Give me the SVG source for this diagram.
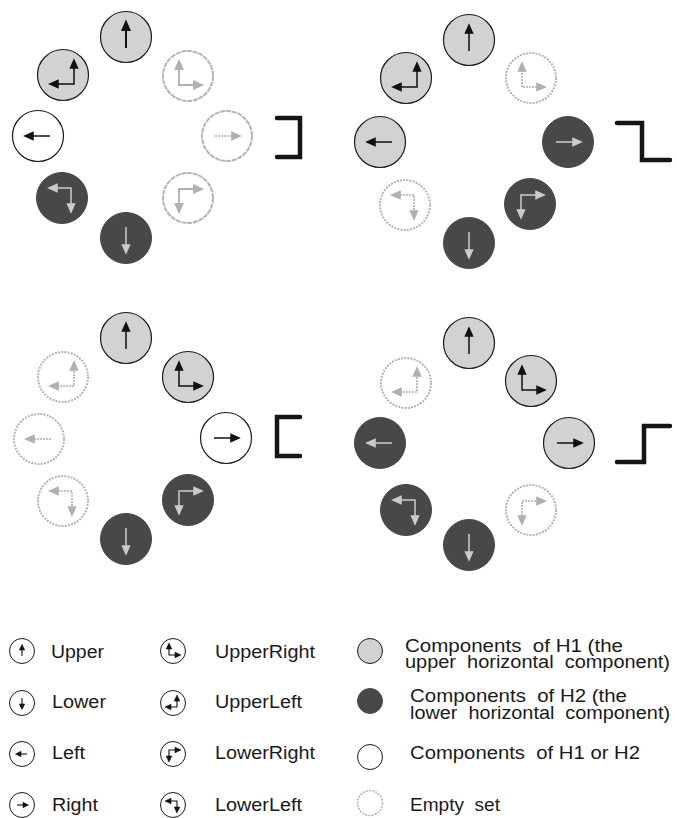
<svg xmlns="http://www.w3.org/2000/svg" xmlns:xlink="http://www.w3.org/1999/xlink" width="677" height="818" viewBox="0 0 677 818">
<style>
.lt{fill:#d2d2d2;stroke:#1a1a1a;stroke-width:1.2}
.dk{fill:#484848;stroke:#484848;stroke-width:1}
.wh{fill:#fff;stroke:#1a1a1a;stroke-width:1.2}
.em{fill:none;stroke:#b4b4b4;stroke-width:2;stroke-dasharray:2 1.2}
.ab{color:#111;stroke-width:1.5}
.ag{color:#cbcbcb;stroke-width:1.5}
.ae{color:#b0b0b0;stroke-width:1.6;stroke-dasharray:2 1}
.as{color:#b0b0b0;stroke-width:1.8}
.lg{color:#111;stroke-width:1.1}
.hd{fill:currentColor;stroke:currentColor;stroke-linejoin:miter;stroke-dasharray:none}
.t{font-family:"Liberation Sans",Arial,sans-serif;font-size:18px;fill:#1a1a1a}
.br{fill:none;stroke:#151515;stroke-width:4.5;stroke-linecap:round;stroke-linejoin:miter}
</style>
<defs>
<g id="aU"><path d="M0,11V-8" fill="none" stroke="currentColor"/><path class="hd" d="M0,-15L-3.5,-7H3.5Z"/></g>
<g id="aD"><path d="M0,-11V8" fill="none" stroke="currentColor"/><path class="hd" d="M0,15L-3.5,7H3.5Z"/></g>
<g id="aL"><path d="M12,0H-6" fill="none" stroke="currentColor"/><path class="hd" d="M-13,0L-5,-3.5V3.5Z"/></g>
<g id="aR"><path d="M-12,0H6" fill="none" stroke="currentColor"/><path class="hd" d="M13,0L5,-3.5V3.5Z"/></g>
<g id="aUL"><path d="M-6,9H11V-8" fill="none" stroke="currentColor"/><path class="hd" d="M11,-15L7.5,-7H14.5Z"/><path class="hd" d="M-13,9L-5,5.5V12.5Z"/></g>
<g id="aUR"><path d="M-9,-8V9H6" fill="none" stroke="currentColor"/><path class="hd" d="M-9,-15L-12.5,-7H-5.5Z"/><path class="hd" d="M14,9L6,5.5V12.5Z"/></g>
<g id="aLL"><path d="M-5,-10H9V6" fill="none" stroke="currentColor"/><path class="hd" d="M-13,-10L-5,-13.5V-6.5Z"/><path class="hd" d="M9,14L5.5,6H12.5Z"/></g>
<g id="aLR"><path d="M-9,6V-9H6" fill="none" stroke="currentColor"/><path class="hd" d="M14,-9L6,-12.5V-5.5Z"/><path class="hd" d="M-9,14L-12.5,6H-5.5Z"/></g>
<!-- legend-size arrows -->
<g id="sU"><path d="M0,5V-2" fill="none" stroke="currentColor"/><path class="hd" d="M0,-6.5L-2.7,-1H2.7Z" style="stroke-width:0.6"/></g>
<g id="sD"><path d="M0,-5V2" fill="none" stroke="currentColor"/><path class="hd" d="M0,6.5L-2.7,1H2.7Z" style="stroke-width:0.6"/></g>
<g id="sL"><path d="M5,0H-2" fill="none" stroke="currentColor"/><path class="hd" d="M-6.5,0L-1,-2.7V2.7Z" style="stroke-width:0.6"/></g>
<g id="sR"><path d="M-5,0H2" fill="none" stroke="currentColor"/><path class="hd" d="M6.5,0L1,-2.7V2.7Z" style="stroke-width:0.6"/></g>
<g id="sUR"><path d="M-4,-2V4H2" fill="none" stroke="currentColor"/><path class="hd" d="M-4,-8L-6.8,-2H-1.2Z" style="stroke-width:0.6"/><path class="hd" d="M8,4L2,1.2V6.8Z" style="stroke-width:0.6"/></g>
<g id="sUL"><path d="M-2,4H4V-2" fill="none" stroke="currentColor"/><path class="hd" d="M4,-8L1.2,-2H6.8Z" style="stroke-width:0.6"/><path class="hd" d="M-8,4L-2,1.2V6.8Z" style="stroke-width:0.6"/></g>
<g id="sLR"><path d="M-4,2V-4H2" fill="none" stroke="currentColor"/><path class="hd" d="M8,-4L2,-6.8V-1.2Z" style="stroke-width:0.6"/><path class="hd" d="M-4,8L-6.8,2H-1.2Z" style="stroke-width:0.6"/></g>
<g id="sLL"><path d="M-2,-4H4V2" fill="none" stroke="currentColor"/><path class="hd" d="M-8,-4L-2,-6.8V-1.2Z" style="stroke-width:0.6"/><path class="hd" d="M4,8L1.2,2H6.8Z" style="stroke-width:0.6"/></g>
</defs>

<!-- Panel 1 -->
<g id="p1-upper"><circle class="lt" cx="126" cy="37" r="25.5"/><use xlink:href="#aU" class="ab" transform="translate(126,37)" style="stroke-width:2"/></g>
<g id="p1-upperleft"><circle class="lt" cx="63" cy="75" r="25.5"/><use xlink:href="#aUL" class="ab" transform="translate(63,75)"/></g>
<g id="p1-upperright"><circle class="em" cx="188" cy="76" r="25" style="stroke-dasharray:5 0.8"/><use xlink:href="#aUR" class="as" transform="translate(188,76)"/></g>
<g id="p1-left"><circle class="wh" cx="38" cy="136" r="25.5"/><use xlink:href="#aL" class="ab" transform="translate(38,136)"/></g>
<g id="p1-right"><circle class="em" cx="227" cy="136" r="25" style="stroke-dasharray:5 0.8"/><use xlink:href="#aR" class="ae" transform="translate(227,136)"/></g>
<g id="p1-lowerleft"><circle class="dk" cx="62" cy="198" r="25.5"/><use xlink:href="#aLL" class="ag" transform="translate(62,198)"/></g>
<g id="p1-lowerright"><circle class="em" cx="188" cy="198" r="25" style="stroke-dasharray:5 0.8"/><use xlink:href="#aLR" class="as" transform="translate(188,198)"/></g>
<g id="p1-lower"><circle class="dk" cx="126" cy="238" r="25.5"/><use xlink:href="#aD" class="ag" transform="translate(126,238)"/></g>

<!-- Panel 2 -->
<g id="p2-upper"><circle class="lt" cx="469" cy="40" r="25.5"/><use xlink:href="#aU" class="ab" transform="translate(469,40)"/></g>
<g id="p2-upperleft"><circle class="lt" cx="406" cy="78" r="25.5"/><use xlink:href="#aUL" class="ab" transform="translate(406,78)"/></g>
<g id="p2-upperright"><circle class="em" cx="531" cy="78" r="25"/><use xlink:href="#aUR" class="ae" transform="translate(531,78)"/></g>
<g id="p2-left"><circle class="lt" cx="380" cy="142" r="25.5"/><use xlink:href="#aL" class="ab" transform="translate(380,142)"/></g>
<g id="p2-right"><circle class="dk" cx="568" cy="142" r="25.5"/><use xlink:href="#aR" class="ag" transform="translate(568,142)"/></g>
<g id="p2-lowerleft"><circle class="em" cx="405" cy="205" r="25"/><use xlink:href="#aLL" class="ae" transform="translate(405,205)"/></g>
<g id="p2-lowerright"><circle class="dk" cx="530" cy="204" r="25.5"/><use xlink:href="#aLR" class="ag" transform="translate(530,204)"/></g>
<g id="p2-lower"><circle class="dk" cx="469" cy="243" r="25.5"/><use xlink:href="#aD" class="ag" transform="translate(469,243)"/></g>

<!-- Panel 3 -->
<g id="p3-upper"><circle class="lt" cx="126" cy="338" r="25.5"/><use xlink:href="#aU" class="ab" transform="translate(126,338)"/></g>
<g id="p3-upperleft"><circle class="em" cx="63" cy="377" r="25"/><use xlink:href="#aUL" class="ae" transform="translate(63,377)"/></g>
<g id="p3-upperright"><circle class="lt" cx="188" cy="377" r="25.5"/><use xlink:href="#aUR" class="ab" transform="translate(188,377)"/></g>
<g id="p3-left"><circle class="em" cx="39" cy="439" r="25"/><use xlink:href="#aL" class="ae" transform="translate(39,439)"/></g>
<g id="p3-right"><circle class="wh" cx="226" cy="438" r="25.5"/><use xlink:href="#aR" class="ab" transform="translate(226,438)"/></g>
<g id="p3-lowerleft"><circle class="em" cx="63" cy="501" r="25"/><use xlink:href="#aLL" class="ae" transform="translate(63,501)"/></g>
<g id="p3-lowerright"><circle class="dk" cx="188" cy="500" r="25.5"/><use xlink:href="#aLR" class="ag" transform="translate(188,500)"/></g>
<g id="p3-lower"><circle class="dk" cx="126" cy="539" r="25.5"/><use xlink:href="#aD" class="ag" transform="translate(126,539)"/></g>

<!-- Panel 4 -->
<g id="p4-upper"><circle class="lt" cx="469" cy="343" r="25.5"/><use xlink:href="#aU" class="ab" transform="translate(469,343)"/></g>
<g id="p4-upperleft"><circle class="em" cx="406" cy="383" r="25"/><use xlink:href="#aUL" class="ae" transform="translate(406,383)"/></g>
<g id="p4-upperright"><circle class="lt" cx="531" cy="381" r="25.5"/><use xlink:href="#aUR" class="ab" transform="translate(531,381)"/></g>
<g id="p4-left"><circle class="dk" cx="380" cy="443" r="25.5"/><use xlink:href="#aL" class="ag" transform="translate(380,443)"/></g>
<g id="p4-right"><circle class="lt" cx="569" cy="443" r="25.5"/><use xlink:href="#aR" class="ab" transform="translate(569,443)"/></g>
<g id="p4-lowerleft"><circle class="dk" cx="406" cy="510" r="25.5"/><use xlink:href="#aLL" class="ag" transform="translate(406,510)"/></g>
<g id="p4-lowerright"><circle class="em" cx="531" cy="510" r="25"/><use xlink:href="#aLR" class="ae" transform="translate(531,510)"/></g>
<g id="p4-lower"><circle class="dk" cx="469" cy="545" r="25.5"/><use xlink:href="#aD" class="ag" transform="translate(469,545)"/></g>

<!-- Step / bracket shapes -->
<g id="connectors">
<path class="br" d="M277,118H300V157H277"/>
<path class="br" d="M617,123H642V160H670"/>
<path class="br" d="M300,417H277V456H300"/>
<path class="br" d="M617,462H644V426H670"/>
</g>

<!-- Legend -->
<g id="lg-upper"><circle class="wh" cx="22" cy="651" r="12.5" style="stroke-width:1"/><use xlink:href="#sU" class="lg" transform="translate(22,651)"/><text class="t" x="51" y="658" textLength="53" lengthAdjust="spacingAndGlyphs">Upper</text></g>
<g id="lg-lower"><circle class="wh" cx="22" cy="703" r="12.5" style="stroke-width:1"/><use xlink:href="#sD" class="lg" transform="translate(22,703)"/><text class="t" x="52" y="708" textLength="54" lengthAdjust="spacingAndGlyphs">Lower</text></g>
<g id="lg-left"><circle class="wh" cx="22" cy="754" r="12.5" style="stroke-width:1"/><use xlink:href="#sL" class="lg" transform="translate(22,754)"/><text class="t" x="52" y="759" textLength="33" lengthAdjust="spacingAndGlyphs">Left</text></g>
<g id="lg-right"><circle class="wh" cx="22" cy="805" r="12.5" style="stroke-width:1"/><use xlink:href="#sR" class="lg" transform="translate(22,805)"/><text class="t" x="52" y="811" textLength="46" lengthAdjust="spacingAndGlyphs">Right</text></g>

<g id="lg-upperright"><circle class="wh" cx="173" cy="651" r="12.5" style="stroke-width:1"/><use xlink:href="#sUR" class="lg" transform="translate(173,651)"/><text class="t" x="215" y="658" textLength="100" lengthAdjust="spacingAndGlyphs">UpperRight</text></g>
<g id="lg-upperleft"><circle class="wh" cx="173" cy="703" r="12.5" style="stroke-width:1"/><use xlink:href="#sUL" class="lg" transform="translate(173,703)"/><text class="t" x="215" y="708" textLength="87" lengthAdjust="spacingAndGlyphs">UpperLeft</text></g>
<g id="lg-lowerright"><circle class="wh" cx="173" cy="754" r="12.5" style="stroke-width:1"/><use xlink:href="#sLR" class="lg" transform="translate(173,754)"/><text class="t" x="215" y="759" textLength="100" lengthAdjust="spacingAndGlyphs">LowerRight</text></g>
<g id="lg-lowerleft"><circle class="wh" cx="173" cy="805" r="12.5" style="stroke-width:1"/><use xlink:href="#sLL" class="lg" transform="translate(173,805)"/><text class="t" x="215" y="811" textLength="87" lengthAdjust="spacingAndGlyphs">LowerLeft</text></g>

<g id="lg-h1"><circle class="lt" cx="370" cy="651" r="12.5" style="stroke-width:1"/><text class="t" x="405" y="652" xml:space="preserve" textLength="218" lengthAdjust="spacingAndGlyphs">Components  of H1 (the</text><text class="t" x="405" y="668" xml:space="preserve" textLength="265" lengthAdjust="spacingAndGlyphs">upper  horizontal  component)</text></g>
<g id="lg-h2"><circle class="dk" cx="370" cy="701" r="12.5"/><text class="t" x="410" y="702" xml:space="preserve" textLength="217" lengthAdjust="spacingAndGlyphs">Components  of H2 (the</text><text class="t" x="410" y="719" xml:space="preserve" textLength="260" lengthAdjust="spacingAndGlyphs">lower  horizontal  component)</text></g>
<g id="lg-h1orh2"><circle class="wh" cx="370" cy="757" r="12.5" style="stroke-width:1"/><text class="t" x="410" y="759" xml:space="preserve" textLength="230" lengthAdjust="spacingAndGlyphs">Components  of H1 or H2</text></g>
<g id="lg-empty"><circle class="em" cx="370" cy="803" r="12.5" style="stroke-width:1.6"/><text class="t" x="410" y="811" xml:space="preserve" textLength="90" lengthAdjust="spacingAndGlyphs">Empty  set</text></g>
</svg>
